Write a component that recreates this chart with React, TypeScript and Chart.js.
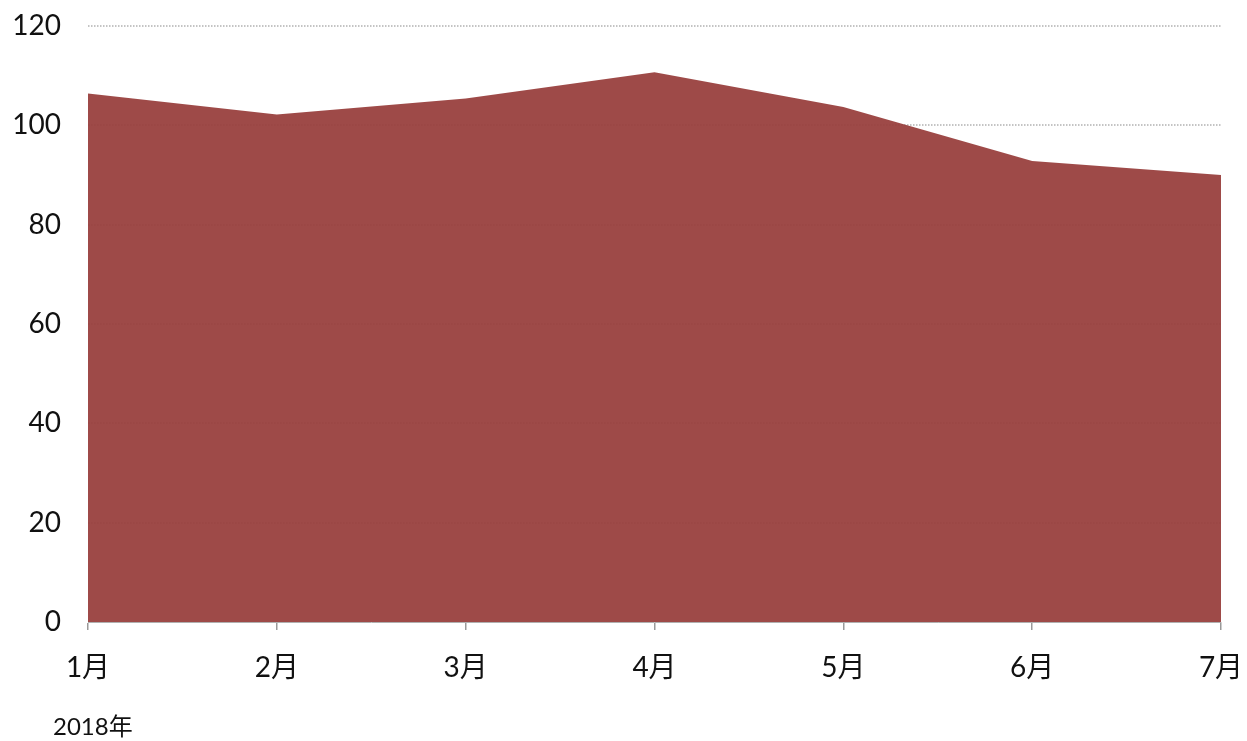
import React, { useEffect, useRef } from "react";
import { Chart, registerables } from "chart.js";

Chart.register(...registerables);

const months = ["1月", "2月", "3月", "4月", "5月", "6月", "7月"];
const values = [106.4, 102.2, 105.4, 110.7, 103.7, 92.8, 90.0];
const yearLabel = "2018年";

const FONT = "Lato, 'Noto Sans CJK SC', sans-serif";

export default function App() {
  const ref = useRef<HTMLCanvasElement | null>(null);

  useEffect(() => {
    document.body.style.margin = "0";
    const ctx = ref.current!.getContext("2d")!;
    const chart = new Chart(ctx, {
      type: "line",
      data: {
        labels: months,
        datasets: [
          {
            data: values,
            fill: "origin",
            backgroundColor: "rgba(153,64,62,0.95)",
            borderWidth: 0,
            borderColor: "rgba(0,0,0,0)",
            pointRadius: 0,
            tension: 0,
          },
        ],
      },
      options: {
        animation: false,
        responsive: false,
        maintainAspectRatio: false,
        layout: { padding: { top: 26, right: 26, left: 0, bottom: 0 } },
        plugins: {
          legend: { display: false },
          tooltip: { enabled: false },
        },
        scales: {
          x: {
            offset: false,
            grid: {
              drawOnChartArea: false,
              drawTicks: true,
              tickLength: 8,
              color: "#9a9a9a",
              lineWidth: 1.5,
            },
            border: { display: true, color: "#b0b0b0", width: 1 },
            ticks: {
              color: "#111",
              font: { family: FONT, size: 28 },
              padding: 21,
              maxRotation: 0,
              autoSkip: false,
            },
            afterFit: (s: any) => {
              s.height = 119;
              s.paddingLeft = 0;
              s.paddingRight = 0;
            },
          },
          y: {
            min: 0,
            max: 120,
            grid: {
              drawTicks: false,
              color: (c: any) => (c.tick && c.tick.value === 0 ? "rgba(0,0,0,0)" : "#c4c4c4"),
              lineWidth: 2,
            },
            border: { display: false, dash: [1.5, 1.5] },
            ticks: {
              stepSize: 20,
              color: "#111",
              font: { family: FONT, size: 28 },
              padding: 27,
            },
            afterFit: (s: any) => {
              s.width = 88;
              s.paddingTop = 0;
              s.paddingBottom = 0;
            },
          },
        },
      },
    });
    return () => chart.destroy();
  }, []);

  return (
    <div style={{ position: "relative", width: 1247, height: 741 }}>
      <canvas ref={ref} width={1247} height={741} style={{ display: "block" }} />
      <div
        style={{
          position: "absolute",
          left: 53,
          top: 712,
          fontFamily: FONT,
          fontSize: 24,
          lineHeight: "28px",
          color: "#111",
        }}
      >
        {yearLabel}
      </div>
    </div>
  );
}
